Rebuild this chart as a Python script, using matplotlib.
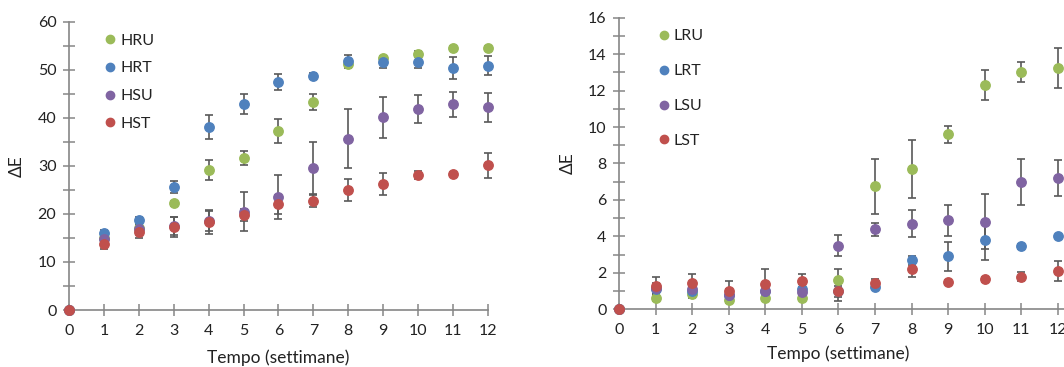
import numpy as np
import matplotlib
matplotlib.use("Agg")
import matplotlib.pyplot as plt
from matplotlib.lines import Line2D

plt.rcParams['font.family'] = ['Lato', 'DejaVu Sans']

weeks = list(range(13))

# left panel (H series)
h_labels = ['HRU', 'HRT', 'HSU', 'HST']
hru = [0, 15.0, 17.0, 22.2, 29.1, 31.7, 37.2, 43.3, 51.2, 52.4, 53.3, 54.6, 54.6]
hru_err = [0, 0.8, 1.0, 0.6, 2.1, 1.5, 2.5, 1.7, 0.8, 0.5, 0.6, 0.4, 0.4]
hrt = [0, 16.0, 18.7, 25.6, 38.1, 42.9, 47.5, 48.7, 51.9, 51.6, 51.7, 50.4, 50.9]
hrt_err = [0, 0.6, 0.7, 1.3, 2.5, 2.1, 1.7, 0.6, 1.3, 1.2, 1.3, 2.2, 2.0]
hsu = [0, 14.8, 16.8, 17.5, 18.6, 20.5, 23.6, 29.5, 35.7, 40.1, 41.9, 42.8, 42.2]
hsu_err = [0, 1.0, 1.2, 1.8, 2.2, 4.0, 4.6, 5.5, 6.1, 4.2, 2.9, 2.6, 3.0]
hst = [0, 13.8, 16.2, 17.3, 18.3, 19.8, 22.0, 22.8, 25.0, 26.3, 28.1, 28.3, 30.1]
hst_err = [0, 1.0, 1.2, 2.0, 2.4, 1.2, 2.0, 1.3, 2.3, 2.3, 0.9, 0.4, 2.7]

# right panel (L series)
l_labels = ['LRU', 'LRT', 'LSU', 'LST']
lru = [0, 0.6, 0.85, 0.5, 0.65, 0.65, 1.6, 6.75, 7.7, 9.6, 12.3, 13.0, 13.25]
lru_err = [0, 0.15, 0.25, 0.15, 0.15, 0.1, 0.6, 1.5, 1.6, 0.45, 0.8, 0.55, 1.1]
lrt = [0, 1.1, 1.0, 0.8, 1.0, 1.1, 1.0, 1.25, 2.7, 2.9, 3.8, 3.45, 4.0]
lrt_err = [0, 0.3, 0.3, 0.3, 0.3, 0.3, 0.3, 0.15, 0.25, 0.8, 1.1, 0.15, 0.1]
lsu = [0, 1.15, 1.1, 0.8, 1.0, 0.95, 3.5, 4.4, 4.7, 4.9, 4.8, 7.0, 7.2]
lsu_err = [0, 0.3, 0.3, 0.3, 0.3, 0.3, 0.6, 0.35, 0.75, 0.85, 1.5, 1.25, 1.0]
lst = [0, 1.3, 1.45, 1.0, 1.4, 1.55, 1.0, 1.45, 2.2, 1.5, 1.65, 1.8, 2.1]
lst_err = [0, 0.45, 0.5, 0.55, 0.8, 0.4, 0.55, 0.2, 0.45, 0.1, 0.15, 0.25, 0.55]

colors = ['#9BBB59', '#4F81BD', '#8064A2', '#C0504D']
axis_col = '#868686'
text_col = '#222222'
err_col = '#595959'

fig = plt.figure(figsize=(10.64, 3.67), dpi=100)
ax1 = fig.add_axes([0.0648, 0.1553, 0.3938, 0.785])
ax2 = fig.add_axes([0.5818, 0.157, 0.4296, 0.795])


def draw(ax, series, errs, labels, ymax, major, minor, xmax, leg_x, leg_sp):
    for vals, e, c in zip(series, errs, colors):
        ax.errorbar(weeks, vals, yerr=e, fmt='none', ecolor=err_col,
                    elinewidth=1.2, capsize=3, capthick=1.2, clip_on=False, zorder=2)
        ax.plot(weeks, vals, 'o', color=c, markersize=6.8, ls='none',
                clip_on=False, zorder=3)
    ax.set_xlim(0, xmax)
    ax.set_ylim(0, ymax)
    ax.set_xticks(range(13))
    ax.set_yticks(np.arange(0, ymax + 0.01, major))
    ax.set_yticks(np.arange(0, ymax + 0.01, minor), minor=True)
    for s in ['top', 'right']:
        ax.spines[s].set_visible(False)
    for s in ['left', 'bottom']:
        ax.spines[s].set_color(axis_col)
        ax.spines[s].set_linewidth(1.2)
    ax.tick_params(which='both', direction='inout', length=8, width=1.1,
                   color=axis_col, labelsize=11.5, labelcolor=text_col)
    ax.tick_params(axis='x', pad=6)
    ax.tick_params(axis='y', pad=5)
    ax.set_xlabel('Tempo (settimane)', fontsize=12.5, color=text_col, labelpad=8)
    ax.set_ylabel('ΔE', fontsize=12.5, color=text_col, labelpad=9)
    handles = [Line2D([], [], marker='o', ls='none', color=c, markersize=6)
               for c in colors]
    ax.legend(handles, labels, loc='upper left', bbox_to_anchor=(leg_x, 1.01),
              frameon=False, fontsize=11.5, handletextpad=0.05, labelspacing=leg_sp,
              handlelength=1.2, labelcolor=text_col)


draw(ax1, [hru, hrt, hsu, hst], [hru_err, hrt_err, hsu_err, hst_err],
     h_labels, 60, 10, 5, 12, 0.04, 0.85)
draw(ax2, [lru, lrt, lsu, lst], [lru_err, lrt_err, lsu_err, lst_err],
     l_labels, 16, 2, 1, 12.5, 0.045, 1.3)
ax2.xaxis.set_label_coords(0.48, -0.125)

fig.savefig('out.png', dpi=100)
